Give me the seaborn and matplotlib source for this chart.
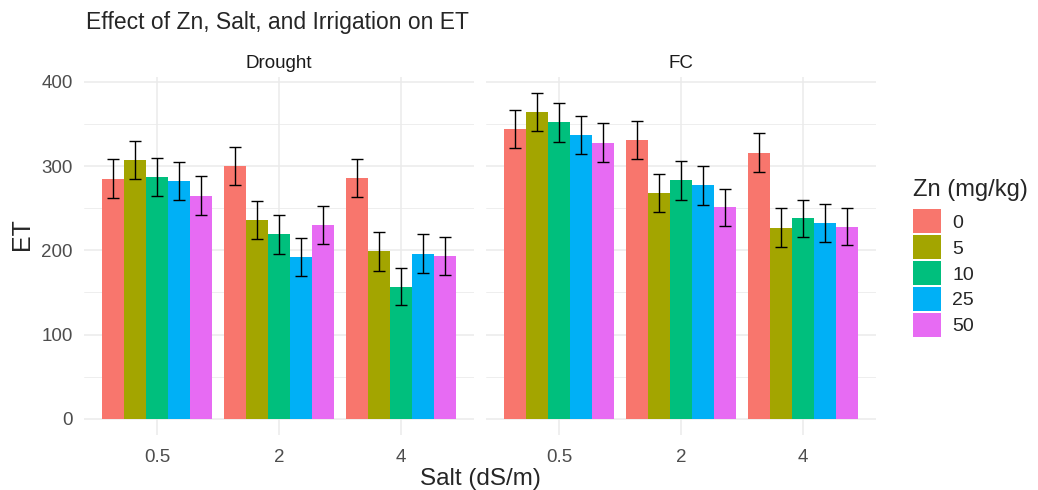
import pandas as pd
import numpy as np
import matplotlib.pyplot as plt
import seaborn as sns
from matplotlib.ticker import MultipleLocator

# Data
irrigation = ["Drought", "FC"]
salt = ["0.5", "2", "4"]
zn = ["0", "5", "10", "25", "50"]

# rows: salt level, columns: Zn level
et_drought = [[285, 307, 287, 282, 265],
              [300, 236, 219, 192, 230],
              [286, 199, 157, 196, 193]]
se_drought = [[22.9, 22.5, 23.0, 22.8, 23.0],
              [22.5, 23.0, 23.0, 22.3, 22.3],
              [22.5, 23.0, 22.5, 23.0, 22.3]]
et_fc = [[344, 364, 352, 337, 328],
         [331, 268, 283, 277, 251],
         [316, 227, 238, 232, 228]]
se_fc = [[22.7, 22.7, 22.8, 23.0, 23.0],
         [22.7, 22.5, 23.0, 22.9, 22.3],
         [23.0, 22.8, 22.0, 22.7, 22.0]]

colors = ["#F8766D", "#A3A500", "#00BF7D", "#00B0F6", "#E76BF3"]

rows = []
for irr, et, se in [("Drought", et_drought, se_drought), ("FC", et_fc, se_fc)]:
    for i, s in enumerate(salt):
        for j, z in enumerate(zn):
            rows.append({"Irrigation": irr, "Salt": s, "Zn": z,
                         "ET": et[i][j], "SE": se[i][j]})
df = pd.DataFrame(rows)

sns.set_theme(style="white")
plt.rcParams["font.family"] = ["Liberation Sans", "DejaVu Sans"]

fig = plt.figure(figsize=(10.38, 4.9), dpi=100)
W, H = 1038, 490
axes = []
for k, left in enumerate([84, 486]):
    ax = fig.add_axes([left / W, (H - 435) / H, 390 / W, 358 / H])
    axes.append(ax)

grey_text = "#4D4D4D"
for k, (ax, irr) in enumerate(zip(axes, irrigation)):
    sub = df[df["Irrigation"] == irr]
    sns.barplot(data=sub, x="Salt", y="ET", hue="Zn", order=salt, hue_order=zn,
                palette=colors, width=0.9, errorbar=None, saturation=1,
                linewidth=0, ax=ax, legend=(k == 0))
    # error bars at bar centers
    bar_conts = list(ax.containers)
    for j, cont in enumerate(bar_conts):
        zsub = sub[sub["Zn"] == zn[j]].set_index("Salt").loc[salt]
        xs = [b.get_x() + b.get_width() / 2 for b in cont]
        ys = [b.get_height() for b in cont]
        ax.errorbar(xs, ys, yerr=zsub["SE"].values, fmt="none", ecolor="black",
                    elinewidth=1.0, capsize=4.3, capthick=1.0, zorder=5)
    ax.set_xlim(-0.6, 2.6)
    ax.set_ylim(-19.3, 405.8)
    ax.yaxis.set_major_locator(MultipleLocator(100))
    ax.yaxis.set_minor_locator(MultipleLocator(50))
    ax.set_axisbelow(True)
    ax.grid(which="major", color="#EBEBEB", lw=1.1)
    ax.grid(which="minor", axis="y", color="#EBEBEB", lw=0.6)
    ax.tick_params(which="both", length=0, labelsize=13.5, labelcolor=grey_text)
    ax.tick_params(axis="x", pad=10)
    ax.tick_params(axis="y", pad=8)
    for sp in ax.spines.values():
        sp.set_visible(False)
    ax.set_xlabel("")
    ax.set_ylabel("")
    ax.set_title(irr, fontsize=13.5, color="#1A1A1A", pad=6.5)
    if k == 1:
        ax.tick_params(axis="y", labelleft=False)

handles, labels = axes[0].get_legend_handles_labels()
axes[0].get_legend().remove()
leg = fig.legend(handles, labels, title="Zn (mg/kg)", loc="upper left",
                 bbox_to_anchor=(913 / W, 1 - 179 / H), frameon=False,
                 fontsize=14, title_fontsize=17, alignment="left",
                 handlelength=1.43, handleheight=1.52, labelspacing=0.1,
                 handletextpad=0.6, borderpad=0, borderaxespad=0)
leg._legend_box.sep = 6

fig.text(86 / W, 1 - 29 / H, "Effect of Zn, Salt, and Irrigation on ET",
         fontsize=16.5, ha="left", va="baseline")
fig.text(480 / W, 5 / H, "Salt (dS/m)", fontsize=17.5, ha="center", va="baseline")
fig.text(22 / W, 256 / H, "ET", fontsize=18, rotation=90, ha="center", va="center")

plt.savefig("out.png", dpi=100)
